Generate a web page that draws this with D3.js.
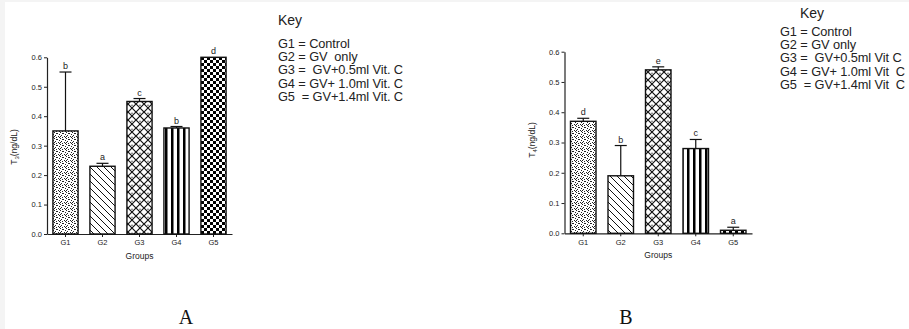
<!DOCTYPE html>
<html><head><meta charset="utf-8">
<script src="https://cdn.jsdelivr.net/npm/d3@7"></script>
<style>body{margin:0;background:#fff}svg{display:block}text{white-space:pre}</style>
</head><body>
<svg id="c" width="909" height="329"></svg>
<script>
const groups = ["G1","G2","G3","G4","G5"];
const yTicks = [0.0,0.1,0.2,0.3,0.4,0.5,0.6];
const valuesA = [0.35,0.23,0.45,0.36,0.60];
const errTopA = [0.55,0.24,0.46,0.365,0.60];
const lettersA = ["b","a","c","b","d"];
const valuesB = [0.37,0.19,0.54,0.28,0.01];
const errTopB = [0.38,0.29,0.55,0.31,0.02];
const lettersB = ["d","b","e","c","a"];
const keyLines = ["G1 = Control","G2 = GV  only","G3 =  GV+0.5ml Vit. C","G4 = GV+ 1.0ml Vit. C","G5  = GV+1.4ml Vit. C"];
const keyLinesB = ["G1 = Control","G2 = GV only","G3 =  GV+0.5ml Vit C","G4 = GV+ 1.0ml Vit  C","G5  = GV+1.4ml Vit  C"];

const svg = d3.select("#c");
svg.append("rect").attr("width",909).attr("height",329).attr("fill","#f4f4f4");
svg.append("rect").attr("x",5).attr("y",2).attr("width",904).attr("height",327).attr("fill","#fff");

const defs = svg.append("defs");
let p = defs.append("pattern").attr("id","p0").attr("patternUnits","userSpaceOnUse").attr("width",6).attr("height",6);
p.append("rect").attr("width",6).attr("height",6).attr("fill","#fff");
[[0,0],[3,1],[1,3],[4,4],[2,5],[5,2],[2,1],[5,5],[0,4]].forEach(([x,y])=>p.append("rect").attr("x",x).attr("y",y).attr("width",1).attr("height",1).attr("fill","#222"));
p = defs.append("pattern").attr("id","p1").attr("patternUnits","userSpaceOnUse").attr("width",7).attr("height",7);
p.append("rect").attr("width",7).attr("height",7).attr("fill","#fff");
p.append("path").attr("d","M-1,-1L8,8M-8,-1L1,8M6,-1L15,8").attr("stroke","#111").attr("stroke-width",1);
p = defs.append("pattern").attr("id","p2").attr("patternUnits","userSpaceOnUse").attr("width",8).attr("height",8);
p.append("rect").attr("width",8).attr("height",8).attr("fill","#fff");
p.append("path").attr("d","M0,0L8,8M8,0L0,8").attr("stroke","#111").attr("stroke-width",1.2);
p.append("circle").attr("cx",4).attr("cy",1.2).attr("r",0.7).attr("fill","#333");
p = defs.append("pattern").attr("id","p3").attr("patternUnits","userSpaceOnUse").attr("width",6).attr("height",6);
p.append("rect").attr("width",6).attr("height",6).attr("fill","#fff");
p.append("rect").attr("x",3).attr("width",2.5).attr("height",6).attr("fill","#000");
p = defs.append("pattern").attr("id","p4").attr("patternUnits","userSpaceOnUse").attr("width",6).attr("height",6);
p.append("rect").attr("width",6).attr("height",6).attr("fill","#fff");
p.append("rect").attr("width",3).attr("height",3).attr("fill","#000");
p.append("rect").attr("x",3).attr("y",3).attr("width",3).attr("height",3).attr("fill","#000");

function panel(cfg){
  const g = svg.append("g");
  const x = d3.scaleBand().domain(groups).range([cfg.x0,cfg.x1]).paddingInner(0.32).paddingOuter(0.16);
  const y = d3.scaleLinear().domain([0,0.6]).range([cfg.yb,cfg.yt]);
  const ya = g.append("g").attr("transform",`translate(${cfg.x0},0)`)
    .call(d3.axisLeft(y).tickValues(yTicks).tickFormat(d3.format(".1f")).tickSize(3).tickSizeOuter(0));
  const xa = g.append("g").attr("transform",`translate(0,${cfg.yb})`)
    .call(d3.axisBottom(x).tickSize(3).tickSizeOuter(0));
  [ya,xa].forEach(a=>{a.select(".domain").attr("stroke","#222").attr("stroke-width",1.2);
    a.selectAll("line").attr("stroke","#222");
    a.selectAll("text").attr("font-family","Liberation Sans, Arial, sans-serif").attr("font-size",7.5).attr("fill","#222");});
  ya.selectAll("text").attr("x",-5);
  xa.selectAll("text").attr("y",6);
  g.selectAll(".bar").data(groups).join("rect")
    .attr("x",d=>x(d)).attr("width",x.bandwidth())
    .attr("y",(d,i)=>y(cfg.vals[i])).attr("height",(d,i)=>cfg.yb-y(cfg.vals[i]))
    .attr("fill",(d,i)=>`url(#p${i})`).attr("stroke","#111").attr("stroke-width",1.4);
  groups.forEach((d,i)=>{
    if(cfg.err[i]>cfg.vals[i]){
      const cx = x(d)+x.bandwidth()/2;
      g.append("line").attr("x1",cx).attr("x2",cx).attr("y1",y(cfg.vals[i])).attr("y2",y(cfg.err[i])).attr("stroke","#111").attr("stroke-width",1.2);
      g.append("line").attr("x1",cx-6).attr("x2",cx+6).attr("y1",y(cfg.err[i])).attr("y2",y(cfg.err[i])).attr("stroke","#111").attr("stroke-width",1.2);
    }
    g.append("text").attr("x",x(d)+x.bandwidth()/2).attr("y",y(cfg.err[i])-3).attr("text-anchor","middle")
      .attr("font-family","Liberation Sans, Arial, sans-serif").attr("font-size",9).attr("fill","#222").text(cfg.letters[i]);
  });
  g.append("text").attr("x",(cfg.x0+cfg.x1)/2).attr("y",cfg.yb+25).attr("text-anchor","middle")
    .attr("font-family","Liberation Sans, Arial, sans-serif").attr("font-size",8.5).attr("fill","#222").text("Groups");
  const t = g.append("text").attr("transform",`translate(${cfg.tx},${cfg.ty}) rotate(-90)`).attr("text-anchor","middle")
    .attr("font-family","Liberation Sans, Arial, sans-serif").attr("font-size",8.5).attr("fill","#222");
  t.append("tspan").text("T");
  t.append("tspan").attr("font-size",6).attr("dy",2).text(cfg.sub);
  t.append("tspan").attr("dy",-2).text("(ng/dL)");
  const k = g.append("g").attr("font-family","Liberation Sans, Arial, sans-serif").attr("fill","#222");
  k.append("text").attr("x",cfg.kx+cfg.keyOff).attr("y",cfg.ky).attr("font-size",14).text("Key");
  cfg.keys.forEach((s,i)=>k.append("text").attr("x",cfg.kx).attr("y",cfg.ky0+i*13.2).attr("font-size",12.8)
    .attr("letter-spacing",-0.1).attr("xml:space","preserve").text(s));
  svg.append("text").attr("x",cfg.lx).attr("y",324).attr("text-anchor","middle")
    .attr("font-family","Liberation Serif, Times New Roman, serif").attr("font-size",20).attr("fill","#111").text(cfg.label);
}
panel({x0:47,x1:232,yb:234,yt:57.3,vals:valuesA,err:errTopA,letters:lettersA,sub:"3",tx:17,ty:147,
  kx:278,ky:25,keyOff:0,ky0:48,keys:keyLines,lx:186,label:"A"});
panel({x0:564.5,x1:752,yb:233.3,yt:51.7,vals:valuesB,err:errTopB,letters:lettersB,sub:"4",tx:535,ty:140,
  kx:780,ky:18,keyOff:20,ky0:36,keys:keyLinesB,lx:626,label:"B"});
</script>
</body></html>
